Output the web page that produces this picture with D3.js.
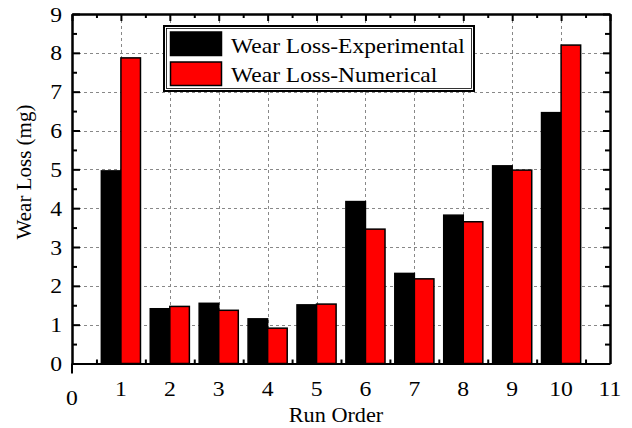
<!DOCTYPE html>
<html>
<head>
<meta charset="utf-8">
<script src="https://cdn.jsdelivr.net/npm/d3@7"></script>
<style>
  html, body { margin: 0; padding: 0; background: #fff; }
  svg { display: block; }
  text { font-family: "Liberation Serif", "Times New Roman", serif; fill: #000; }
</style>
</head>
<body>
<svg id="chart" width="632" height="428"></svg>
<script>
// Wear loss per run: experimental vs numerical
const runOrder = [1, 2, 3, 4, 5, 6, 7, 8, 9, 10];
const experimental = [4.96, 1.41, 1.55, 1.15, 1.51, 4.17, 2.32, 3.82, 5.09, 6.46];
const numerical = [7.87, 1.47, 1.37, 0.91, 1.53, 3.46, 2.18, 3.65, 4.98, 8.20];
const seriesNames = ["Wear Loss-Experimental", "Wear Loss-Numerical"];
const seriesColors = ["#000000", "#ff0000"];
const xTicks = [0, 1, 2, 3, 4, 5, 6, 7, 8, 9, 10, 11];
const yTicks = [0, 1, 2, 3, 4, 5, 6, 7, 8, 9];

const svg = d3.select("#chart");
const plotL = 72, plotR = 610, plotT = 14, plotB = 363.5;

const x = d3.scaleLinear().domain([0, 11]).range([plotL, plotR]);
const y = d3.scaleLinear().domain([0, 9]).range([plotB, plotT]);
const barW = 0.4; // bar width in run-order units

// dashed grid
const grid = svg.append("g").attr("stroke", "#888").attr("stroke-width", 1).attr("stroke-dasharray", "3,3");
grid.selectAll("line.gy").data(yTicks.filter(d => d > 0 && d < 9)).join("line")
  .attr("x1", plotL).attr("x2", plotR)
  .attr("y1", d => Math.round(y(d)) + 0.5).attr("y2", d => Math.round(y(d)) + 0.5);
grid.selectAll("line.gx").data(xTicks.filter(d => d > 0 && d < 11)).join("line")
  .attr("y1", plotT).attr("y2", plotB)
  .attr("x1", d => Math.round(x(d)) + 0.5).attr("x2", d => Math.round(x(d)) + 0.5);

// bars
const series = [experimental, numerical];
series.forEach((vals, si) => {
  svg.append("g").selectAll("rect").data(vals).join("rect")
    .attr("x", (d, i) => si === 0 ? x(runOrder[i] - barW) : x(runOrder[i]))
    .attr("width", x(barW) - x(0))
    .attr("y", d => y(d))
    .attr("height", d => y(0) - y(d))
    .attr("fill", seriesColors[si])
    .attr("stroke", "#000")
    .attr("stroke-width", 1.5);
});

// axes: ticks point inward, minor ticks at half steps
const halfX = d3.range(0.5, 11, 1);
const halfY = d3.range(0.5, 9, 1);
const bottomAxis = d3.axisBottom(x).tickValues(halfX).tickSizeInner(-4).tickSizeOuter(0).tickFormat("");
const topAxisMajor = d3.axisTop(x).tickValues(xTicks).tickSizeInner(-7).tickSizeOuter(0).tickFormat("");
const topAxisMinor = d3.axisTop(x).tickValues(halfX).tickSizeInner(-4).tickSizeOuter(0).tickFormat("");
const leftMajor = d3.axisLeft(y).tickValues(yTicks).tickSizeInner(-8).tickSizeOuter(0).tickFormat("");
const leftMinor = d3.axisLeft(y).tickValues(halfY).tickSizeInner(-5).tickSizeOuter(0).tickFormat("");
const rightMajor = d3.axisRight(y).tickValues(yTicks).tickSizeInner(-7).tickSizeOuter(0).tickFormat("");
const rightMinor = d3.axisRight(y).tickValues(halfY).tickSizeInner(-5).tickSizeOuter(0).tickFormat("");

function styleAxis(g) {
  g.selectAll("path").attr("stroke", "#000").attr("stroke-width", 2);
  g.selectAll("line").attr("stroke", "#000").attr("stroke-width", 2);
}
svg.append("g").attr("transform", `translate(0,${plotB})`).call(bottomAxis).call(styleAxis);
svg.append("g").attr("transform", `translate(0,${plotT})`).call(topAxisMajor).call(styleAxis);
svg.append("g").attr("transform", `translate(0,${plotT})`).call(topAxisMinor).call(styleAxis);
svg.append("g").attr("transform", `translate(${plotL},0)`).call(leftMajor).call(styleAxis);
svg.append("g").attr("transform", `translate(${plotL},0)`).call(leftMinor).call(styleAxis);
svg.append("g").attr("transform", `translate(${plotR},0)`).call(rightMajor).call(styleAxis);
svg.append("g").attr("transform", `translate(${plotR},0)`).call(rightMinor).call(styleAxis);
// short outward tick at the origin
svg.append("line").attr("x1", plotL).attr("x2", plotL).attr("y1", plotB).attr("y2", plotB + 10)
  .attr("stroke", "#000").attr("stroke-width", 2);

// tick labels (slightly wide type)
svg.append("g").selectAll("text").data(yTicks).join("text")
  .attr("transform", d => `translate(62,${y(d) + 7.5}) scale(1.1,1)`)
  .attr("text-anchor", "end").attr("font-size", 21.5).text(d => d);
svg.append("g").selectAll("text").data(xTicks).join("text")
  .attr("transform", d => `translate(${x(d)},${d === 0 ? 405 : 395.5}) scale(1.1,1)`)
  .attr("text-anchor", "middle").attr("font-size", 21.5).text(d => d);

// axis titles
svg.append("text").attr("transform", "translate(336,421.5) scale(1.06,1)").attr("text-anchor", "middle")
  .attr("font-size", 21).text("Run Order");
svg.append("text").attr("transform", "translate(31,172) rotate(-90)").attr("text-anchor", "middle")
  .attr("font-size", 21).text("Wear Loss (mg)");

// legend
const lg = svg.append("g");
lg.append("rect").attr("x", 164).attr("y", 26).attr("width", 310).attr("height", 65)
  .attr("fill", "#fff").attr("stroke", "#000").attr("stroke-width", 2);
lg.append("rect").attr("x", 166.5).attr("y", 28.5).attr("width", 305).attr("height", 60)
  .attr("fill", "none").attr("stroke", "#000").attr("stroke-width", 0.8);
seriesNames.forEach((name, i) => {
  const yy = 32 + i * 30;
  lg.append("rect").attr("x", 170.5).attr("y", yy).attr("width", 51).attr("height", 23.5)
    .attr("fill", seriesColors[i]).attr("stroke", "#000").attr("stroke-width", 1.5);
  lg.append("text").attr("transform", `translate(231,${52.5 + i * 29.5}) scale(1.12,1)`)
    .attr("font-size", 21).text(name);
});
</script>
</body>
</html>
